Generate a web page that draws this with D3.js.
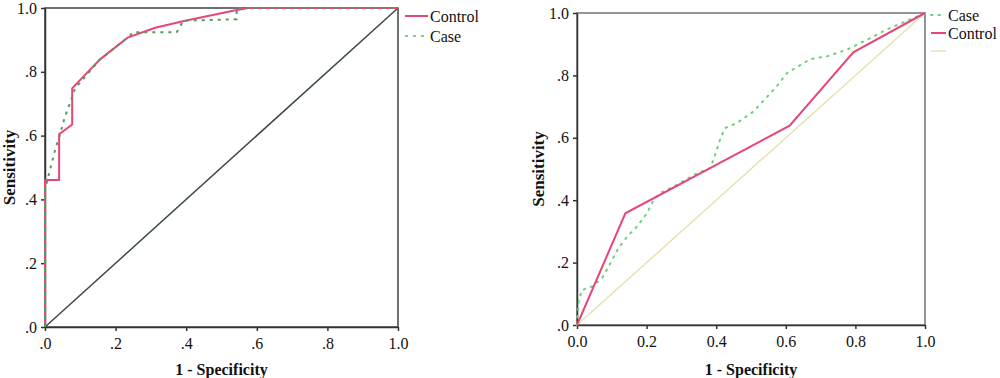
<!DOCTYPE html>
<html>
<head>
<meta charset="utf-8">
<script src="https://cdn.jsdelivr.net/npm/d3@7"></script>
<style>
  body { margin: 0; background: #fff; }
  svg { display: block; }
  text { font-family: "Liberation Serif", "DejaVu Serif", serif; }
</style>
</head>
<body>
<div id="chart"></div>
<script>
// left ROC panel
var leftControlX = [0, 0, 0.040, 0.040, 0.077, 0.077, 0.156, 0.234, 0.312, 0.397, 0.543, 0.577, 1];
var leftControlY = [0, 0.461, 0.461, 0.604, 0.635, 0.748, 0.839, 0.907, 0.938, 0.960, 0.994, 1, 1];
var leftCaseX = [0, 0, 0.002, 0.031, 0.041, 0.055, 0.074, 0.085, 0.156, 0.234, 0.25, 0.373, 0.392, 0.543, 0.543, 1];
var leftCaseY = [0, 0.44, 0.44, 0.565, 0.597, 0.654, 0.712, 0.748, 0.839, 0.907, 0.924, 0.924, 0.960, 0.965, 1, 1];
var leftTicks = [".0", ".2", ".4", ".6", ".8", "1.0"];
var leftLegend = ["Control", "Case"];

// right ROC panel
var rightControlX = [0, 0.139, 0.611, 0.794, 1];
var rightControlY = [0, 0.358, 0.639, 0.874, 1];
var rightCaseX = [0, 0.005, 0.014, 0.043, 0.072, 0.096, 0.119, 0.144, 0.172, 0.201, 0.22, 0.239, 0.287, 0.335, 0.383, 0.392, 0.411, 0.425, 0.459, 0.507, 0.574, 0.603, 0.67, 0.718, 0.775, 0.833, 0.89, 1];
var rightCaseY = [0, 0.075, 0.112, 0.123, 0.150, 0.198, 0.246, 0.283, 0.315, 0.358, 0.401, 0.423, 0.449, 0.481, 0.503, 0.529, 0.594, 0.631, 0.647, 0.684, 0.765, 0.807, 0.852, 0.861, 0.882, 0.914, 0.947, 1];
var rightXTicks = ["0.0", "0.2", "0.4", "0.6", "0.8", "1.0"];
var rightYTicks = [".0", ".2", ".4", ".6", ".8", "1.0"];
var rightLegend = ["Case", "Control", ""];

var tickVals = [0, 0.2, 0.4, 0.6, 0.8, 1];
var red = "#e8457a";

var svg = d3.select("#chart").append("svg")
  .attr("width", 1000)
  .attr("height", 378);

function zip(xs, ys) {
  return xs.map((x, i) => [x, ys[i]]);
}

function panel(opts) {
  var g = svg.append("g");
  var x = d3.scaleLinear().domain([0, 1]).range([opts.x0, opts.x1]);
  var y = d3.scaleLinear().domain([0, 1]).range([opts.y1, opts.y0]);

  // frame
  g.append("rect")
    .attr("x", opts.x0).attr("y", opts.y0)
    .attr("width", opts.x1 - opts.x0).attr("height", opts.y1 - opts.y0)
    .attr("fill", "none")
    .attr("stroke", opts.frame)
    .attr("stroke-width", 1.5);

  var xaxis = d3.axisBottom(x).tickValues(tickVals)
    .tickFormat((d, i) => opts.xTicks[i]).tickSize(4).tickSizeOuter(0);
  var yaxis = d3.axisLeft(y).tickValues(tickVals)
    .tickFormat((d, i) => opts.yTicks[i]).tickSize(4).tickSizeOuter(0);

  var gx = g.append("g").attr("transform", `translate(0, ${opts.y1})`).call(xaxis);
  var gy = g.append("g").attr("transform", `translate(${opts.x0}, 0)`).call(yaxis);
  [gx, gy].forEach(function(a) {
    a.select(".domain").attr("stroke", "#333").attr("stroke-width", 1.5);
    a.selectAll(".tick line").attr("stroke", "#333").attr("stroke-width", 1.5);
    a.selectAll("text")
      .attr("font-family", "Liberation Serif, serif")
      .attr("font-size", "16px")
      .attr("fill", "#111");
  });
  gx.selectAll("text").attr("dy", "0.95em");
  gy.selectAll("text").attr("dx", "-1px");

  var line = d3.line().x(d => x(d[0])).y(d => y(d[1]));

  // reference diagonal
  g.append("path")
    .datum([[0, 0], [1, 1]])
    .attr("d", line)
    .attr("fill", "none")
    .attr("stroke", opts.diag)
    .attr("stroke-width", opts.diagWidth);

  opts.series.forEach(function(s) {
    g.append("path")
      .datum(zip(s.xs, s.ys))
      .attr("d", line)
      .attr("fill", "none")
      .attr("stroke", s.color)
      .attr("stroke-width", s.width)
      .attr("stroke-dasharray", s.dash || null)
      .attr("stroke-linecap", s.cap || "butt");
  });

  // axis titles
  g.append("text")
    .attr("transform", `translate(${opts.titleYX}, ${(opts.y0 + opts.y1) / 2}) rotate(-90)`)
    .attr("text-anchor", "middle")
    .attr("dy", "0.35em")
    .attr("font-weight", "bold")
    .attr("font-size", "17px")
    .attr("fill", "#111")
    .text("Sensitivity");

  g.append("text")
    .attr("x", (opts.x0 + opts.x1) / 2)
    .attr("y", 375)
    .attr("text-anchor", "middle")
    .attr("font-weight", "bold")
    .attr("font-size", "16px")
    .attr("fill", "#111")
    .text("1 - Specificity");

  // legend
  opts.legend.forEach(function(item, i) {
    var ly = opts.legY + i * opts.legGap;
    g.append("line")
      .attr("x1", opts.legX).attr("x2", opts.legX + opts.legLen)
      .attr("y1", ly).attr("y2", ly)
      .attr("stroke", item.color)
      .attr("stroke-width", item.width)
      .attr("stroke-dasharray", item.dash || null)
      .attr("stroke-linecap", item.cap || "butt");
    g.append("text")
      .attr("x", opts.legX + opts.legLen + 2)
      .attr("y", ly)
      .attr("dy", "0.35em")
      .attr("font-size", "16px")
      .attr("fill", "#111")
      .text(item.label);
  });
}

panel({
  x0: 45, x1: 398, y0: 8, y1: 327,
  frame: "#3c4444",
  xTicks: leftTicks, yTicks: leftTicks,
  diag: "#3d4a48", diagWidth: 1.5,
  titleYX: 9,
  series: [
    { xs: leftControlX, ys: leftControlY, color: red, width: 2 },
    { xs: leftCaseX, ys: leftCaseY, color: "#4f9f57", width: 2, dash: "3,5" }
  ],
  legX: 405, legY: 16, legGap: 20, legLen: 23,
  legend: [
    { label: leftLegend[0], color: red, width: 2 },
    { label: leftLegend[1], color: "#7fcf8f", width: 2, dash: "3,5" }
  ]
});

panel({
  x0: 577, x1: 925, y0: 13, y1: 325,
  frame: "#6e7373",
  xTicks: rightXTicks, yTicks: rightYTicks,
  diag: "#e9e2b0", diagWidth: 1.5,
  titleYX: 538,
  series: [
    { xs: rightCaseX, ys: rightCaseY, color: "#6fd07a", width: 2, dash: "1.5,6", cap: "round" },
    { xs: rightControlX, ys: rightControlY, color: red, width: 2 }
  ],
  legX: 931, legY: 15, legGap: 18, legLen: 15,
  legend: [
    { label: rightLegend[0], color: "#6fd07a", width: 2, dash: "1.5,6", cap: "round" },
    { label: rightLegend[1], color: red, width: 2 },
    { label: rightLegend[2], color: "#e9e2b0", width: 1.5 }
  ]
});
</script>
</body>
</html>
